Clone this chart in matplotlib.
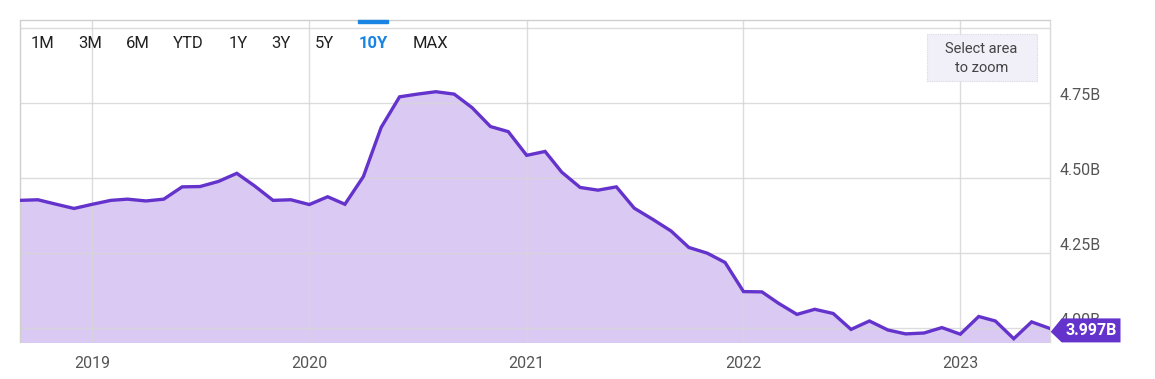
import matplotlib
matplotlib.use("Agg")
import matplotlib.pyplot as plt
import matplotlib.transforms as mtransforms
from matplotlib.patches import Polygon
import pandas as pd
import numpy as np

# ---- data ----
start_month = "2018-09-01"
values_2018 = [4.424, 4.426, 4.411, 4.397]
values_2019 = [4.411, 4.424, 4.428, 4.422, 4.428, 4.469, 4.470, 4.487, 4.514, 4.472, 4.424, 4.426]
values_2020 = [4.410, 4.436, 4.411, 4.503, 4.667, 4.769, 4.778, 4.786, 4.778, 4.733, 4.670, 4.653]
values_2021 = [4.574, 4.587, 4.518, 4.467, 4.458, 4.469, 4.398, 4.361, 4.322, 4.267, 4.248, 4.217]
values_2022 = [4.120, 4.119, 4.081, 4.044, 4.061, 4.047, 3.994, 4.022, 3.992, 3.979, 3.982, 4.000]
values_2023 = [3.978, 4.037, 4.022, 3.963, 4.019, 3.997]
y_ticks = [4.00, 4.25, 4.50, 4.75, 5.00]
y_tick_labels = ["4.00B", "4.25B", "4.50B", "4.75B", ""]
x_tick_years = ["2019", "2020", "2021", "2022", "2023"]
buttons = ["1M", "3M", "6M", "YTD", "1Y", "3Y", "5Y", "10Y", "MAX"]
active_button = "10Y"
last_label = "3.997B"

values = values_2018 + values_2019 + values_2020 + values_2021 + values_2022 + values_2023
dates = pd.date_range(start_month, periods=len(values), freq="MS")

LINE = "#6433cc"
FILL = "#dac9f3"
GRID = "#d6d6d6"
TXT = "#555555"
plt.rcParams["font.family"] = ["Roboto", "DejaVu Sans"]

W, H = 1155, 379
fig = plt.figure(figsize=(W / 100, H / 100), dpi=100)
x0, x1, y0, y1 = 20, 1050, 20, 341.7
ax = fig.add_axes([x0 / W, 1 - y1 / H, (x1 - x0) / W, (y1 - y0) / H])

ax.fill_between(dates, values, 3.9, color=FILL, lw=0, zorder=1)
ax.plot(dates, values, color=LINE, lw=2.4, zorder=4, solid_joinstyle="miter")

ax.set_xlim(dates[0], dates[-1])
ax.set_ylim(3.953, 5.025)

ax.set_xticks([pd.Timestamp(y + "-01-01") for y in x_tick_years])
ax.set_xticklabels(x_tick_years)
ax.set_yticks(y_ticks)
ax.set_yticklabels(y_tick_labels)
ax.yaxis.tick_right()
ax.tick_params(axis="x", length=0, pad=10, labelsize=11.5, labelcolor=TXT)
ax.tick_params(axis="y", length=0, pad=7, labelsize=11.5, labelcolor=TXT)
for lab in ax.get_yticklabels():
    lab.set_verticalalignment("bottom")

ax.grid(True, color=GRID, lw=1.0, zorder=2)
for ln in ax.get_xgridlines() + ax.get_ygridlines():
    ln.set_zorder(2)
    ln.set_alpha(0.85)

ax.spines["bottom"].set_visible(False)
for s in ["left", "top"]:
    ax.spines[s].set_color("#cfcfcf")
    ax.spines[s].set_linestyle((0, (1, 1)))
    ax.spines[s].set_linewidth(1)
ax.spines["right"].set_color("#dadada")
ax.spines["right"].set_linewidth(1)

# end label: arrow box anchored at the last data point (pixel offsets)
px, py = ax.transData.transform((ax.convert_xunits(dates[-1]), values[-1]))
anchor = mtransforms.Affine2D().translate(px, py)
box = Polygon([(0.7, -3.3), (11.7, 10.1), (70.5, 10.1), (70.5, -13.9), (11.7, -13.9)],
              closed=True, transform=anchor, fc=LINE, ec="none", zorder=10, clip_on=False)
fig.add_artist(box)
fig.text(0, 0, last_label, transform=anchor + mtransforms.Affine2D().translate(41.5, -2.2),
         ha="center", va="center", color="white", fontsize=11.5, fontweight="bold", zorder=11)

# range buttons
btn_x = [42.5, 90, 137.6, 188.7, 238, 281, 324.5, 373, 430]
for name, bx in zip(buttons, btn_x):
    active = name == active_button
    fig.text(bx / W, 1 - 43 / H, name, ha="center", va="center", fontsize=12,
             color="#1a84e4" if active else "#222222",
             fontweight="bold" if active else "normal")
    if active:
        fig.patches.append(plt.Rectangle((358 / W, 1 - 23 / H), 30 / W, 3.5 / H,
                                         transform=fig.transFigure, color="#1a84e4"))

# select area box
fig.patches.append(plt.Rectangle((926.5 / W, 1 - 81 / H), 110 / W, 47 / H,
                                 transform=fig.transFigure, fc="#f1eff7", ec="#d8d8e6",
                                 lw=0.8, ls=(0, (1, 1))))
fig.text(981.5 / W, 1 - 49 / H, "Select area", ha="center", va="center", fontsize=10.5, color="#444444")
fig.text(981.5 / W, 1 - 68 / H, "to zoom", ha="center", va="center", fontsize=10.5, color="#444444")

fig.savefig("out.png", dpi=100)
